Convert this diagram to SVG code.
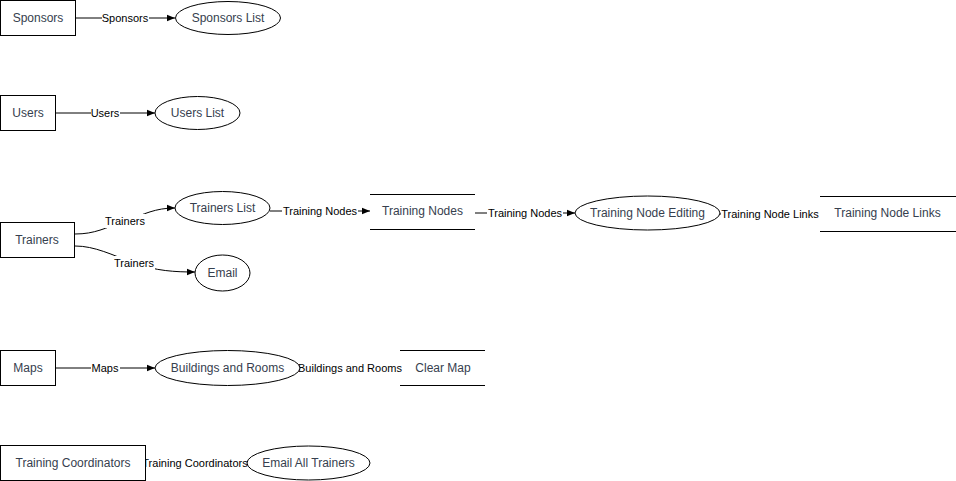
<svg xmlns="http://www.w3.org/2000/svg" width="956" height="481" viewBox="0 0 956 481">
<defs>
<marker id="arr" viewBox="0 0 10 10" refX="10" refY="5" markerWidth="8" markerHeight="8" markerUnits="userSpaceOnUse" orient="auto">
<path d="M0,1 L10,5 L0,9 Z" fill="#000"/>
</marker>
</defs>
<style>
.box{fill:#fff;stroke:#000;stroke-width:1}
.ell{fill:#fff;stroke:#000;stroke-width:1}
.store{stroke:#000;stroke-width:1}
.nt{font-family:"Liberation Sans",Arial,sans-serif;font-size:12px;fill:#36404e;text-anchor:middle;dominant-baseline:central}
.edge{fill:none;stroke:#000;stroke-width:1}
.lbg{fill:#fff}
.lt{font-family:"Liberation Sans",Arial,sans-serif;font-size:11px;fill:#000;text-anchor:middle;dominant-baseline:central}
</style>
<rect width="956" height="481" fill="#fff"/>
<g id="connectors">
<path class="edge" d="M75,18 L175,18" marker-end="url(#arr)"/>
<rect class="lbg" x="102" y="11" width="47" height="14"/><text class="lt" x="125" y="18">Sponsors</text>
<path class="edge" d="M55,113 L155,113" marker-end="url(#arr)"/>
<rect class="lbg" x="91" y="106" width="29" height="14"/><text class="lt" x="105" y="113">Users</text>
<path class="edge" d="M75,234 C95,234 105,228 125,221 S155,208 175,208" marker-end="url(#arr)"/>
<rect class="lbg" x="104" y="214" width="42" height="14"/><text class="lt" x="125" y="221">Trainers</text>
<path class="edge" d="M75,246 C95,246 112,255 134,263 S175,272 195,272" marker-end="url(#arr)"/>
<rect class="lbg" x="113" y="256" width="42" height="14"/><text class="lt" x="134" y="263">Trainers</text>
<path class="edge" d="M270,211 L370,211" marker-end="url(#arr)"/>
<rect class="lbg" x="282" y="204" width="76" height="14"/><text class="lt" x="320" y="211">Training Nodes</text>
<path class="edge" d="M475,213 L575,213" marker-end="url(#arr)"/>
<rect class="lbg" x="487" y="206" width="76" height="14"/><text class="lt" x="525" y="213">Training Nodes</text>
<path class="edge" d="M720,214 L820,214" marker-end="url(#arr)"/>
<rect class="lbg" x="721" y="207" width="99.5" height="14"/><text class="lt" x="770" y="214">Training Node Links</text>
<path class="edge" d="M55,368 L155,368" marker-end="url(#arr)"/>
<rect class="lbg" x="91" y="361" width="29" height="14"/><text class="lt" x="105" y="368">Maps</text>
<path class="edge" d="M300,368 L400,368" marker-end="url(#arr)"/>
<rect class="lbg" x="299" y="361" width="101.5" height="14"/><text class="lt" x="350" y="368">Buildings and Rooms</text>
<path class="edge" d="M145,463 L247,463" marker-end="url(#arr)"/>
<rect class="lbg" x="142" y="456" width="106" height="14"/><text class="lt" x="195" y="463">Training Coordinators</text>
</g>
<g id="n-sponsors"><rect class="box" x="0.5" y="0.5" width="75" height="35"/><text class="nt" x="38" y="18">Sponsors</text></g>
<g id="n-sponsors-list"><ellipse class="ell" cx="228" cy="18" rx="52.5" ry="16.5"/><text class="nt" x="228" y="18">Sponsors List</text></g>
<g id="n-users"><rect class="box" x="0.5" y="95.5" width="55" height="35"/><text class="nt" x="28" y="113">Users</text></g>
<g id="n-users-list"><ellipse class="ell" cx="197.5" cy="113" rx="42.5" ry="16.5"/><text class="nt" x="197.5" y="113">Users List</text></g>
<g id="n-trainers"><rect class="box" x="0.5" y="222.5" width="74" height="35"/><text class="nt" x="37" y="240">Trainers</text></g>
<g id="n-trainers-list"><ellipse class="ell" cx="222.5" cy="208" rx="47.5" ry="16.5"/><text class="nt" x="222.5" y="208">Trainers List</text></g>
<g id="n-email"><ellipse class="ell" cx="222.5" cy="273" rx="27.5" ry="18"/><text class="nt" x="222.5" y="273">Email</text></g>
<g id="n-training-nodes"><line class="store" x1="370" y1="194.5" x2="475" y2="194.5"/><line class="store" x1="370" y1="229.5" x2="475" y2="229.5"/><text class="nt" x="422.5" y="211">Training Nodes</text></g>
<g id="n-training-node-editing"><ellipse class="ell" cx="647.5" cy="213" rx="72.5" ry="17"/><text class="nt" x="647.5" y="213">Training Node Editing</text></g>
<g id="n-training-node-links"><line class="store" x1="820" y1="196.5" x2="956" y2="196.5"/><line class="store" x1="820" y1="231.5" x2="956" y2="231.5"/><text class="nt" x="887.5" y="213">Training Node Links</text></g>
<g id="n-maps"><rect class="box" x="0.5" y="350.5" width="55" height="35"/><text class="nt" x="28" y="368">Maps</text></g>
<g id="n-buildings"><ellipse class="ell" cx="227.5" cy="368" rx="72.5" ry="17.5"/><text class="nt" x="227.5" y="368">Buildings and Rooms</text></g>
<g id="n-clear-map"><line class="store" x1="400" y1="350.5" x2="485" y2="350.5"/><line class="store" x1="400" y1="385.5" x2="485" y2="385.5"/><text class="nt" x="443" y="368">Clear Map</text></g>
<g id="n-coordinators"><rect class="box" x="0.5" y="445.5" width="145" height="35"/><text class="nt" x="73" y="463">Training Coordinators</text></g>
<g id="n-email-all"><ellipse class="ell" cx="308.5" cy="463" rx="61.5" ry="17"/><text class="nt" x="308.5" y="463">Email All Trainers</text></g>
</svg>
